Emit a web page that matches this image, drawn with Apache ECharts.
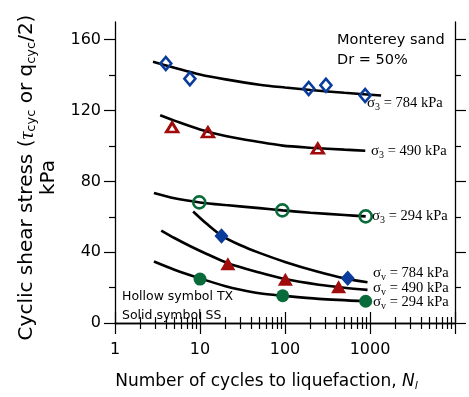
<!DOCTYPE html>
<html><head><meta charset="utf-8">
<script src="https://cdn.jsdelivr.net/npm/echarts@6/dist/echarts.min.js"></script>
<style>html,body{margin:0;padding:0;background:#fff}#c{width:469px;height:397px}</style>
</head><body><div id="c"></div>
<script>
// ---- tick values ----
const xMajorTicks = [1, 10, 100, 1000, 10000];
const xTickLabels = [1, 10, 100, 1000];
const xMinorTicks = [2, 3, 4, 5, 6, 7, 8, 9, 20, 30, 40, 50, 60, 70, 80, 90,
  200, 300, 400, 500, 600, 700, 800, 900, 2000, 3000, 4000, 5000, 6000, 7000, 8000, 9000];
const yMajorTicks = [0, 40, 80, 120, 160];
const yMinorTicks = [20, 60, 100, 140];

// ---- fitted curves [N, stress kPa] ----
const curveTX784 = [[2.8,147.5],[5,144.2],[10,140.4],[20,137.6],[50,134.6],[100,133.0],[200,131.6],[500,130.0],[1350,128.5]];
const curveTX490 = [[3.4,117.3],[5,114.3],[10,109.3],[20,105.6],[50,102.2],[94,100.2],[200,99.0],[500,97.9],[880,97.3]];
const curveTX294 = [[2.87,73.4],[5,70.4],[10,68.1],[20,66.6],[50,64.9],[94,63.6],[200,62.3],[500,61.0],[890,60.2]];
const curveSS784 = [[8.3,63],[12,56],[17.9,49.4],[30,43.9],[50,39.6],[100,34.5],[233,29.2],[500,25.2],[935,23]];
const curveSS490 = [[3.5,52.2],[5,48],[7.6,43.5],[12,39],[21.3,33.8],[50,28.5],[100,24.8],[250,21.6],[500,19.9],[935,18.7]];
const curveSS294 = [[2.87,34.7],[5,30.1],[10,25.2],[20,20.8],[30,18.8],[50,16.8],[94,15.4],[250,13.6],[890,12.3]];

// ---- test points [N, stress kPa] ----
const tx784 = [[3.96,146.6],[7.6,137.9],[190,132.4],[303,134.3],[877,128.5]];
const tx490 = [[4.7,110.5],[12.4,107.7],[243,98.5]];
const tx294 = [[9.8,68.1],[93,63.6],[890,60.2]];
const ss784 = [[17.9,49.2],[547,25.3]];
const ss490 = [[21.3,33.4],[101,24.7],[427,20.5]];
const ss294 = [[10,24.8],[94,15.4],[890,12.3]];

const BLUE = '#0a3c9c', RED = '#a00c0c', GREEN = '#0a6b3a';
const SANS = 'DejaVu Sans', SERIF = 'Liberation Serif';

const chart = echarts.init(document.getElementById('c'), null, {renderer: 'canvas'});

function xAx(pos, ticks, len, line, labels) {
  return {
    type: 'log', logBase: 10, min: 1, max: 10000, position: pos,
    axisLine: {show: line, lineStyle: {color: '#000', width: 1.3}},
    axisTick: {show: true, inside: false, length: len, customValues: ticks, lineStyle: {color: '#000', width: 1.2}},
    axisLabel: labels ? {show: true, customValues: xTickLabels, margin: 19, color: '#000', fontFamily: SANS, fontSize: 16,
      formatter: v => String(Math.round(v))} : {show: false},
    splitLine: {show: false}, minorTick: {show: false}
  };
}
function yAx(pos, ticks, len, line, labels) {
  return {
    type: 'value', min: 0, max: 170, position: pos,
    axisLine: {show: line, lineStyle: {color: '#000', width: 1.3}},
    axisTick: {show: true, inside: false, length: len, customValues: ticks, lineStyle: {color: '#000', width: 1.2}},
    axisLabel: labels ? {show: true, customValues: yMajorTicks, margin: 14, color: '#000', fontFamily: SANS, fontSize: 16,
      formatter: v => String(v)} : {show: false},
    splitLine: {show: false}
  };
}

const xAxes = [xAx('bottom', xMajorTicks, 11, true, true), xAx('bottom', xMinorTicks, 6, false, false),
               xAx('top', xMajorTicks, 11, true, false), xAx('top', xMinorTicks, 6, false, false)];
xAxes[0].name = '{a|Number of cycles to liquefaction, }{i|N}{si|l}';
xAxes[0].nameLocation = 'middle';
xAxes[0].nameGap = 49;
xAxes[0].nameMoveOverlap = false;
xAxes[0].nameTextStyle = {color: '#000', fontFamily: SANS, fontSize: 17, padding: [0, 37, 0, 0],
  rich: {a: {fontFamily: SANS, fontSize: 17, color: '#000', lineHeight: 20},
         i: {fontFamily: SANS, fontSize: 17, fontStyle: 'italic', color: '#000', lineHeight: 20},
         si: {fontFamily: SANS, fontSize: 11, fontStyle: 'italic', color: '#000', lineHeight: 11, verticalAlign: 'bottom'}}};

const yAxes = [yAx('left', yMajorTicks, 11, true, true), yAx('left', yMinorTicks, 6, false, false),
               yAx('right', yMajorTicks, 11, true, false), yAx('right', yMinorTicks, 6, false, false)];
yAxes[0].name = '{a|Cyclic shear stress (}{g|τ}{s|cyc}{a| or q}{s|cyc}{a|/2)}\n{a|kPa}';
yAxes[0].nameLocation = 'middle';
yAxes[0].nameRotate = 90;
yAxes[0].nameGap = 55;
yAxes[0].nameMoveOverlap = false;
yAxes[0].nameTextStyle = {color: '#000', fontFamily: SANS, fontSize: 20, align: 'center', padding: [0, 10, 0, 0],
  rich: {a: {fontFamily: SANS, fontSize: 20, color: '#000', lineHeight: 22, align: 'center'},
         g: {fontFamily: SERIF, fontSize: 22, fontStyle: 'italic', color: '#000', lineHeight: 22},
         s: {fontFamily: SANS, fontSize: 13, color: '#000', lineHeight: 12, verticalAlign: 'bottom'}}};

function curve(data) {
  return {type: 'line', data: data, xAxisIndex: 0, yAxisIndex: 0, smooth: 0.3,
    showSymbol: false, symbol: 'none',
    lineStyle: {color: '#000', width: 2.6}, silent: true, z: 2, animation: false};
}
function pts(data, symbol, size, color, hollow, bw) {
  return {type: 'scatter', data: data, xAxisIndex: 0, yAxisIndex: 0, symbol: symbol, symbolSize: size, z: 5, animation: false,
    itemStyle: hollow ? {color: 'rgba(255,255,255,0)', borderColor: color, borderWidth: bw, opacity: 1}
                      : {color: color, borderWidth: 0, opacity: 1}};
}

const serifRich = {
  g: {fontFamily: SERIF, fontSize: 15, fill: '#000', lineHeight: 18},
  s: {fontFamily: SERIF, fontSize: 10, fill: '#000', lineHeight: 9, verticalAlign: 'bottom'},
  a: {fontFamily: SERIF, fontSize: 14.5, fill: '#000', lineHeight: 18}
};
function ann(txt, sub, x, yc) {
  return {type: 'text', left: x, top: yc - 9, z: 10,
    style: {text: '{g|σ}{s|' + sub + '}{a| = ' + txt + '}', rich: serifRich, fill: '#000'}};
}
function plain(txt, x, yc, size) {
  return {type: 'text', left: x, top: yc - size * 0.6, z: 10,
    style: {text: txt, fill: '#000', fontFamily: SANS, fontSize: size, lineHeight: size * 1.2}};
}

chart.setOption({
  animation: false,
  backgroundColor: '#fff',
  grid: {left: 115, right: 14, top: 22, bottom: 74, containLabel: false},
  xAxis: xAxes,
  yAxis: yAxes,
  series: [
    curve(curveTX784), curve(curveTX490), curve(curveTX294),
    curve(curveSS784), curve(curveSS490), curve(curveSS294),
    pts(tx784, 'diamond', [11, 13], BLUE, true, 2.6),
    pts(tx490, 'triangle', [11.5, 9.5], RED, true, 2.8),
    pts(tx294, 'circle', 12, GREEN, true, 2.6),
    pts(ss784, 'diamond', [14, 15.5], BLUE, false),
    pts(ss490, 'triangle', [15, 13], RED, false),
    pts(ss294, 'circle', 13, GREEN, false)
  ],
  graphic: [
    plain('Monterey sand', 337, 40, 14.5),
    plain('Dr = 50%', 337, 60, 14.5),
    plain('Hollow symbol TX', 122, 297, 12.5),
    plain('Solid symbol SS', 122, 316, 12.5),
    ann('784 kPa', '3', 367, 105),
    ann('490 kPa', '3', 371, 153),
    ann('294 kPa', '3', 372, 218),
    ann('784 kPa', 'v', 373, 275),
    ann('490 kPa', 'v', 373, 289.5),
    ann('294 kPa', 'v', 373, 303.5)
  ]
});
</script>
</body></html>
